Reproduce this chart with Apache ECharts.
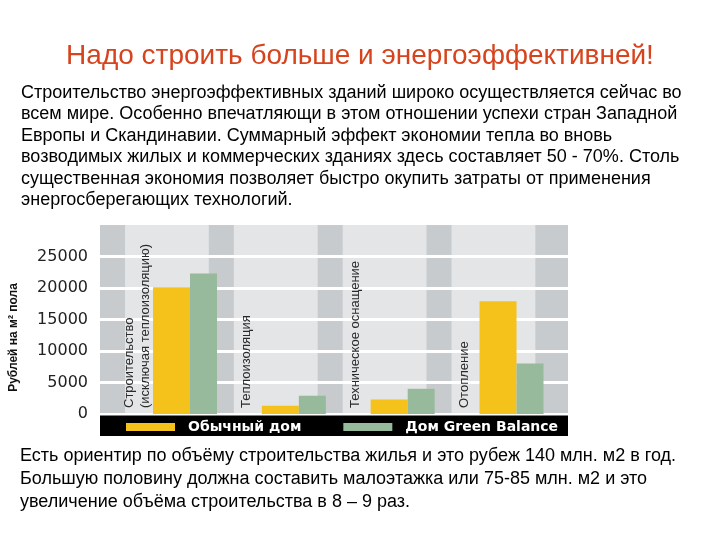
<!DOCTYPE html>
<html><head><meta charset="utf-8">
<script src="https://cdn.jsdelivr.net/npm/echarts@6/dist/echarts.min.js"></script>
<style>html,body{margin:0;padding:0;background:#fff}#c{width:720px;height:540px}</style>
</head><body><div id="c"></div>
<script>
const titleText = 'Надо строить больше и энергоэффективней!';
const introLines = [
  'Строительство энергоэффективных зданий широко осуществляется сейчас во',
  'всем мире. Особенно впечатляющи в этом отношении успехи стран Западной',
  'Европы и Скандинавии. Суммарный эффект экономии тепла во вновь',
  'возводимых жилых и коммерческих зданиях здесь составляет 50 - 70%. Столь',
  'существенная экономия позволяет быстро окупить затраты от применения',
  'энергосберегающих технологий.'
];
const footerLines = [
  'Есть ориентир по объёму строительства жилья и это рубеж 140 млн. м2 в год.',
  'Большую половину должна составить малоэтажка или 75-85 млн. м2 и это',
  'увеличение объёма строительства в 8 – 9 раз.'
];
const categories = ['Строительство\n(исключая теплоизоляцию)', 'Теплоизоляция', 'Техническое оснащение', 'Отопление'];
const seriesNames = ['Обычный дом', 'Дом Green Balance'];
const ordinaryHouse = [20100, 1300, 2300, 17900];
const greenBalance = [22300, 2900, 4000, 8000];
const yAxisName = 'Рублей на м² пола';

const YELLOW = '#f4c21b', GREEN = '#97ba9c', DARK = '#c8cbce', LIGHT = '#e3e5e7';
const YMAX = 30000, XMAX = 4.3;

function barRender(off, w) {
  return function (params, api) {
    const i = api.value(0), v = api.value(1);
    const p0 = api.coord([i + off, 0]);
    const p1 = api.coord([i + off + w, v]);
    return { type: 'rect', shape: { x: p0[0], y: p1[1], width: p1[0] - p0[0], height: p0[1] - p1[1] }, style: api.style() };
  };
}

const chart = echarts.init(document.getElementById('c'), null, { renderer: 'canvas' });
chart.setOption({
  animation: false,
  backgroundColor: '#fff',
  title: [
    { text: titleText, left: 'center', top: 37, textStyle: { fontFamily: 'Liberation Sans', fontSize: 28, fontWeight: 'normal', color: '#d6431d' } },
    { text: introLines.join('\n'), left: 16, top: 77, textStyle: { fontFamily: 'Liberation Sans', fontSize: 18, fontWeight: 'normal', color: '#000', lineHeight: 21.5 } },
    { text: footerLines.join('\n'), left: 15, top: 440, textStyle: { fontFamily: 'Liberation Sans', fontSize: 18, fontWeight: 'normal', color: '#000', lineHeight: 23 } }
  ],
  grid: { left: 100, top: 225, width: 468, height: 189, show: true, backgroundColor: DARK, borderWidth: 0, z: -2 },
  xAxis: { type: 'value', min: 0, max: XMAX, show: false },
  yAxis: {
    type: 'value', min: 0, max: YMAX, interval: 5000,
    axisLine: { show: false }, axisTick: { show: false },
    axisLabel: { showMaxLabel: false, margin: 12, fontFamily: 'DejaVu Sans', fontSize: 16, color: '#222', formatter: v => String(v) },
    splitLine: { show: true, showMaxLine: false, lineStyle: { color: '#fff', width: 3 } },
    name: yAxisName, nameLocation: 'middle', nameGap: 80, nameRotate: 90,
    nameTextStyle: { fontFamily: 'Liberation Sans', fontWeight: 'bold', fontSize: 12, color: '#111', padding: [0, 36, 0, 0] }
  },
  legend: {
    data: seriesNames, left: 126, top: 420, icon: 'rect', itemWidth: 49, itemHeight: 8, itemGap: 42, padding: 0,
    selectedMode: false,
    textStyle: { color: '#fff', fontFamily: 'DejaVu Sans', fontWeight: 'bold', fontSize: 14, padding: [0, 0, 0, 8] }
  },
  graphic: [
    { type: 'rect', left: 100, top: 415.5, shape: { width: 468, height: 20.5 }, style: { fill: '#000' }, z: 1 }
  ],
  series: [
    {
      type: 'custom', name: 'bg', silent: true, z: -1, clip: true,
      data: categories.map((c, i) => [i]),
      renderItem: (params, api) => {
        const i = api.value(0);
        const p0 = api.coord([i + 0.23, 0]);
        const p1 = api.coord([i + 1, YMAX]);
        return { type: 'rect', shape: { x: p0[0], y: p1[1], width: p1[0] - p0[0], height: p0[1] - p1[1] }, style: { fill: LIGHT } };
      }
    },
    {
      type: 'custom', name: seriesNames[0], itemStyle: { color: YELLOW }, z: 2,
      data: ordinaryHouse.map((v, i) => [i, v]),
      renderItem: barRender(0.487, 0.34)
    },
    {
      type: 'custom', name: seriesNames[1], itemStyle: { color: GREEN }, z: 2,
      data: greenBalance.map((v, i) => [i, v]),
      renderItem: barRender(0.827, 0.248)
    },
    {
      type: 'custom', name: 'labels', silent: true, z: 3,
      data: categories.map((c, i) => [i]),
      renderItem: (params, api) => {
        const i = api.value(0);
        const p = api.coord([i + 0.345, 0]);
        return {
          type: 'text', x: p[0], y: p[1] - 6, rotation: Math.PI / 2,
          style: { text: categories[i], align: 'left', verticalAlign: 'middle', fill: '#2a2a2a', fontFamily: 'Liberation Sans', fontSize: 13, lineHeight: 16 }
        };
      }
    }
  ]
});
</script></body></html>
